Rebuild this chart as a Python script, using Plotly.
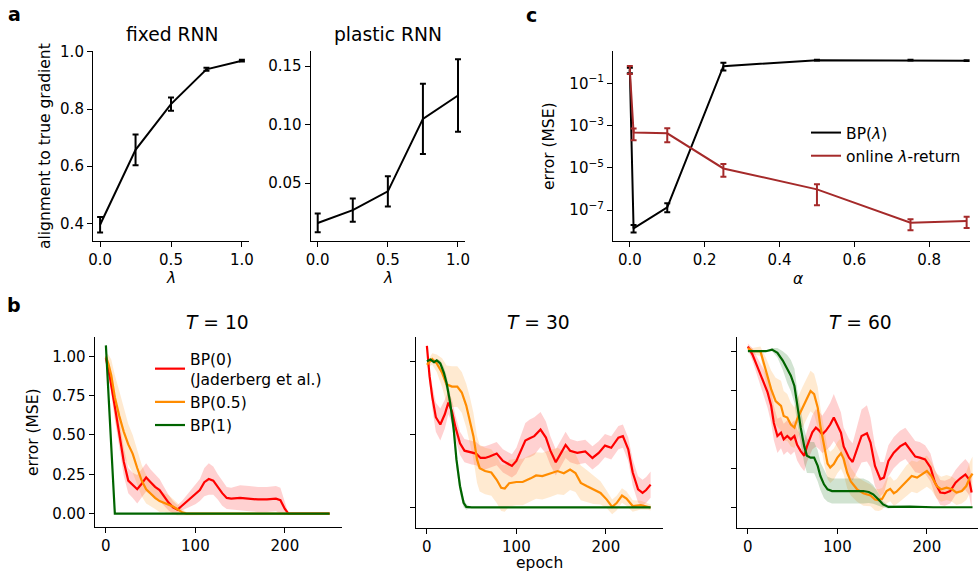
import plotly.graph_objects as go

W, H = 978, 573
FONT = "DejaVu Sans"
TICK = 15
LAB = 15.5
TITLE = 18.7

# ---------------- panel a : alignment to true gradient ----------------
lam = [0.0, 0.25, 0.5, 0.75, 1.0]
fixed_mean = [0.395, 0.657, 0.817, 0.939, 0.969]
fixed_err = [0.027, 0.054, 0.023, 0.005, 0.003]
plastic_mean = [0.016, 0.027, 0.043, 0.105, 0.125]
plastic_err = [0.008, 0.010, 0.013, 0.030, 0.031]

# ---------------- panel c : error vs alpha ----------------
alpha = [0.0, 0.01, 0.1, 0.25, 0.5, 0.75, 0.9]
bp_mean = [0.4, 1.35e-8, 1.35e-7, 0.65, 1.25, 1.25, 1.18]
bp_lo = [0.3, 8.7e-9, 7.8e-8, 0.40, 1.20, 1.20, 1.13]
bp_hi = [0.55, 1.95e-8, 2.1e-7, 0.95, 1.30, 1.30, 1.23]
olr_mean = [0.43, 4.7e-4, 4.3e-4, 9.3e-6, 9.5e-7, 2.5e-8, 3.0e-8]
olr_lo = [0.275, 2.0e-4, 1.6e-4, 3.8e-6, 1.7e-7, 1.1e-8, 1.4e-8]
olr_hi = [0.66, 7.2e-4, 7.4e-4, 1.5e-5, 1.66e-6, 3.7e-8, 4.8e-8]

# ---------------- panel b : learning curves ----------------
# T = 10
t10_red_ep = [0, 5, 10, 15, 20, 25, 30, 35, 40, 45, 50, 55, 60, 65, 70, 75, 80, 85, 90, 95,
              100, 105, 110, 115, 120, 125, 130, 135, 140, 150, 160, 170, 180, 190, 195, 200, 204, 220, 250]
t10_red = [0.99, 0.85, 0.68, 0.50, 0.33, 0.21, 0.18, 0.155, 0.19, 0.23, 0.20, 0.17, 0.15, 0.11, 0.07, 0.04,
           0.025, 0.05, 0.075, 0.095, 0.12, 0.15, 0.20, 0.22, 0.21, 0.17, 0.13, 0.10, 0.095, 0.10, 0.095,
           0.09, 0.09, 0.095, 0.085, 0.03, 0.0, 0.0, 0.0]
t10_red_sd = [0.02, 0.05, 0.08, 0.09, 0.09, 0.08, 0.08, 0.09, 0.09, 0.09, 0.08, 0.08, 0.07, 0.06, 0.05,
              0.04, 0.03, 0.03, 0.04, 0.05, 0.06, 0.07, 0.09, 0.10, 0.09, 0.08, 0.08, 0.07, 0.07, 0.08,
              0.08, 0.08, 0.08, 0.08, 0.08, 0.04, 0.0, 0.0, 0.0]
t10_org_ep = [0, 3, 6, 10, 15, 20, 25, 30, 35, 40, 45, 50, 55, 60, 65, 70, 75, 80, 85, 90, 250]
t10_org = [1.0, 0.95, 0.88, 0.74, 0.62, 0.52, 0.44, 0.38, 0.29, 0.21, 0.155, 0.125, 0.10, 0.08, 0.07,
           0.058, 0.045, 0.028, 0.008, 0.0, 0.0]
t10_org_sd = [0.02, 0.06, 0.10, 0.14, 0.16, 0.15, 0.13, 0.12, 0.11, 0.10, 0.09, 0.08, 0.07, 0.07, 0.06,
              0.06, 0.05, 0.04, 0.02, 0.01, 0.0]
t10_grn_ep = [0, 2, 4, 6, 8, 10, 250]
t10_grn = [1.07, 0.86, 0.66, 0.43, 0.20, 0.0, 0.0]
t10_grn_sd = [0.0, 0.01, 0.01, 0.01, 0.01, 0.0, 0.0]

# T = 30
t30_red_ep = [0, 3, 6, 10, 15, 20, 24, 28, 32, 37, 42, 50, 55, 60, 65, 70, 78, 85, 90, 95,
              100, 105, 110, 115, 120, 127, 133, 138, 144, 150, 155, 160, 168, 177, 185, 192, 199, 206,
              214, 219, 225, 230, 236, 241, 245, 250]
t30_red = [1.11, 0.90, 0.76, 0.62, 0.57, 0.64, 0.72, 0.66, 0.55, 0.44, 0.39, 0.375, 0.37, 0.34, 0.34,
           0.35, 0.37, 0.32, 0.30, 0.285, 0.32, 0.39, 0.46, 0.475, 0.49, 0.535, 0.48, 0.39, 0.31, 0.375,
           0.43, 0.39, 0.375, 0.385, 0.34, 0.375, 0.425, 0.41, 0.48, 0.49, 0.40, 0.24, 0.124, 0.10,
           0.12, 0.157]
t30_red_sd = [0.02, 0.05, 0.08, 0.10, 0.11, 0.10, 0.08, 0.08, 0.08, 0.08, 0.08, 0.08, 0.08, 0.08, 0.08,
              0.08, 0.08, 0.08, 0.08, 0.08, 0.09, 0.10, 0.12, 0.13, 0.13, 0.12, 0.11, 0.10, 0.09, 0.09,
              0.09, 0.08, 0.08, 0.08, 0.08, 0.08, 0.08, 0.08, 0.08, 0.08, 0.08, 0.09, 0.09, 0.09, 0.09,
              0.09]
t30_org_ep = [0, 6, 11, 17, 22, 28, 34, 39, 44, 48, 52, 56, 59, 65, 72, 78, 83, 87, 92, 100,
              107, 116, 122, 129, 137, 146, 153, 160, 166, 172, 179, 186, 194, 201, 207, 212, 218, 223,
              230, 239, 247, 250]
t30_org = [0.98, 1.02, 0.99, 0.925, 0.846, 0.83, 0.83, 0.79, 0.70, 0.60, 0.49, 0.33, 0.27, 0.25, 0.24,
           0.19, 0.135, 0.13, 0.167, 0.175, 0.175, 0.20, 0.22, 0.215, 0.23, 0.25, 0.235, 0.26, 0.237,
           0.169, 0.146, 0.123, 0.10, 0.054, 0.004, 0.03, 0.082, 0.061, 0.01, 0.016, 0.004, 0.0]
t30_org_sd = [0.02, 0.04, 0.06, 0.10, 0.13, 0.14, 0.14, 0.14, 0.15, 0.16, 0.16, 0.16, 0.16, 0.16, 0.16,
              0.16, 0.16, 0.16, 0.16, 0.16, 0.16, 0.16, 0.16, 0.16, 0.16, 0.16, 0.15, 0.14, 0.13, 0.12,
              0.11, 0.10, 0.08, 0.06, 0.05, 0.05, 0.05, 0.05, 0.04, 0.03, 0.02, 0.02]
t30_grn_ep = [0, 4, 8, 11, 15, 19, 22, 26, 30, 33, 37, 41, 44, 50, 250]
t30_grn = [1.005, 1.016, 0.998, 1.01, 0.99, 0.925, 0.855, 0.72, 0.535, 0.33, 0.146, 0.032, 0.004, 0.0, 0.0]
t30_grn_sd = [0.01, 0.01, 0.01, 0.01, 0.02, 0.04, 0.05, 0.06, 0.06, 0.06, 0.05, 0.03, 0.02, 0.0, 0.0]

# T = 60
t60_red_ep = [0, 5, 11, 16, 22, 26, 29, 33, 37, 40, 44, 48, 52, 55, 59, 63, 66, 72, 76, 80,
              83, 87, 92, 96, 100, 104, 107, 113, 117, 122, 127, 133, 137, 142, 148, 152, 157, 163,
              170, 176, 181, 187, 192, 198, 204, 209, 215, 220, 226, 232, 237, 243, 247, 250]
t60_red = [1.03, 0.98, 0.895, 0.82, 0.736, 0.65, 0.54, 0.457, 0.478, 0.435, 0.457, 0.435, 0.457, 0.40,
           0.36, 0.33, 0.39, 0.48, 0.51, 0.49, 0.467, 0.49, 0.53, 0.575, 0.53, 0.478, 0.39, 0.318, 0.29,
           0.37, 0.457, 0.474, 0.414, 0.265, 0.18, 0.19, 0.297, 0.35, 0.39, 0.41, 0.372, 0.325, 0.318,
           0.307, 0.255, 0.158, 0.094, 0.09, 0.104, 0.158, 0.184, 0.21, 0.18, 0.094]
t60_red_sd = [0.02, 0.04, 0.06, 0.08, 0.10, 0.11, 0.11, 0.11, 0.10, 0.10, 0.10, 0.10, 0.10, 0.10, 0.10,
              0.10, 0.10, 0.11, 0.12, 0.12, 0.12, 0.13, 0.14, 0.15, 0.14, 0.13, 0.12, 0.12, 0.12, 0.14,
              0.17, 0.18, 0.16, 0.13, 0.11, 0.10, 0.10, 0.10, 0.10, 0.10, 0.10, 0.10, 0.10, 0.09, 0.09,
              0.08, 0.08, 0.08, 0.08, 0.08, 0.09, 0.10, 0.10, 0.10]
t60_org_ep = [0, 5, 14, 20, 26, 31, 37, 40, 44, 48, 52, 55, 61, 66, 70, 74, 78, 81, 85, 89,
              92, 96, 100, 104, 107, 111, 115, 122, 129, 137, 142, 146, 150, 155, 159, 163, 166, 172,
              177, 183, 189, 194, 200, 205, 211, 216, 222, 228, 233, 239, 244, 248, 251]
t60_org = [1.02, 1.0, 1.0, 0.88, 0.757, 0.68, 0.65, 0.585, 0.575, 0.53, 0.51, 0.564, 0.64, 0.70, 0.745,
           0.725, 0.64, 0.52, 0.39, 0.28, 0.255, 0.277, 0.318, 0.346, 0.31, 0.22, 0.165, 0.115, 0.09,
           0.076, 0.05, 0.046, 0.054, 0.104, 0.118, 0.09, 0.10, 0.136, 0.168, 0.20, 0.19, 0.211, 0.232,
           0.20, 0.136, 0.115, 0.126, 0.115, 0.094, 0.104, 0.136, 0.19, 0.216]
t60_org_sd = [0.01, 0.02, 0.03, 0.08, 0.12, 0.15, 0.16, 0.16, 0.15, 0.14, 0.13, 0.13, 0.13, 0.13, 0.13,
              0.13, 0.13, 0.12, 0.11, 0.10, 0.10, 0.10, 0.10, 0.10, 0.10, 0.10, 0.09, 0.08, 0.08, 0.07,
              0.07, 0.07, 0.07, 0.08, 0.08, 0.08, 0.08, 0.09, 0.10, 0.10, 0.10, 0.10, 0.10, 0.09, 0.08,
              0.08, 0.08, 0.08, 0.08, 0.08, 0.09, 0.10, 0.11]
t60_grn_ep = [0, 10, 20, 27, 33, 39, 44, 48, 52, 55, 59, 63, 66, 70, 74, 78, 81, 85, 89, 94,
              100, 115, 129, 135, 140, 146, 151, 157, 181, 207, 251]
t60_grn = [1.0, 1.0, 1.0, 1.01, 0.99, 0.94, 0.885, 0.843, 0.777, 0.65, 0.51, 0.39, 0.33, 0.318, 0.318,
           0.265, 0.20, 0.147, 0.115, 0.104, 0.104, 0.104, 0.104, 0.098, 0.083, 0.05, 0.018, 0.002,
           0.004, 0.0, 0.0]
t60_grn_sd = [0.0, 0.0, 0.0, 0.01, 0.03, 0.06, 0.09, 0.10, 0.11, 0.11, 0.11, 0.11, 0.11, 0.10, 0.10,
              0.10, 0.09, 0.09, 0.08, 0.08, 0.08, 0.08, 0.08, 0.07, 0.06, 0.04, 0.02, 0.01, 0.0, 0.0, 0.0]

series_names = ["BP(0)<br>(Jaderberg et al.)", "BP(0.5)", "BP(1)"]
line_colors = ["#ff0000", "#ff8c00", "#006400"]
band_colors = ["rgba(255,0,0,0.18)", "rgba(255,140,0,0.18)", "rgba(0,100,0,0.18)"]


def xd(p0, p1):
    return [p0 / W, p1 / W]


def yd(top, bottom):
    return [1 - bottom / H, 1 - top / H]


fig = go.Figure()

# ---- panel a
for i, (m, e) in enumerate([(fixed_mean, fixed_err), (plastic_mean, plastic_err)]):
    ax = "" if i == 0 else "2"
    fig.add_trace(go.Scatter(
        x=lam, y=m, mode="lines", line=dict(color="black", width=2),
        error_y=dict(type="data", array=e, color="black", thickness=2, width=3),
        xaxis="x" + ax, yaxis="y" + ax, showlegend=False, hoverinfo="skip"))

# ---- panel c
fig.add_trace(go.Scatter(
    x=alpha, y=bp_mean, mode="lines", name="BP(<i>λ</i>)",
    line=dict(color="black", width=2),
    error_y=dict(type="data", symmetric=False,
                 array=[h - m for h, m in zip(bp_hi, bp_mean)],
                 arrayminus=[m - l for m, l in zip(bp_mean, bp_lo)],
                 color="black", thickness=2, width=3),
    xaxis="x3", yaxis="y3", legend="legend"))
fig.add_trace(go.Scatter(
    x=alpha, y=olr_mean, mode="lines", name="online <i>λ</i>-return",
    line=dict(color="#a52a2a", width=2),
    error_y=dict(type="data", symmetric=False,
                 array=[h - m for h, m in zip(olr_hi, olr_mean)],
                 arrayminus=[m - l for m, l in zip(olr_mean, olr_lo)],
                 color="#a52a2a", thickness=2, width=3),
    xaxis="x3", yaxis="y3", legend="legend"))

# ---- panel b
panels = [
    ("4", [(t10_red_ep, t10_red, t10_red_sd), (t10_org_ep, t10_org, t10_org_sd), (t10_grn_ep, t10_grn, t10_grn_sd)]),
    ("5", [(t30_red_ep, t30_red, t30_red_sd), (t30_org_ep, t30_org, t30_org_sd), (t30_grn_ep, t30_grn, t30_grn_sd)]),
    ("6", [(t60_red_ep, t60_red, t60_red_sd), (t60_org_ep, t60_org, t60_org_sd), (t60_grn_ep, t60_grn, t60_grn_sd)]),
]
for ax, sers in panels:
    for k, (ep, m, sd) in enumerate(sers):
        up = [a + b for a, b in zip(m, sd)]
        lo = [a - b for a, b in zip(m, sd)]
        fig.add_trace(go.Scatter(
            x=list(ep) + list(ep)[::-1], y=up + lo[::-1], mode="lines", fill="toself",
            fillcolor=band_colors[k], line=dict(width=0, color=band_colors[k]),
            xaxis="x" + ax, yaxis="y" + ax, showlegend=False, hoverinfo="skip"))
    for k, (ep, m, sd) in enumerate(sers):
        fig.add_trace(go.Scatter(
            x=ep, y=m, mode="lines", line=dict(color=line_colors[k], width=2.2),
            name=series_names[k], xaxis="x" + ax, yaxis="y" + ax,
            showlegend=(ax == "4"), legend="legend2", hoverinfo="skip"))

axis_base = dict(showline=True, linecolor="black", linewidth=1.1, ticks="outside", ticklen=5,
                 tickwidth=1.1, tickcolor="black", showgrid=False, zeroline=False,
                 tickfont=dict(family=FONT, size=TICK, color="black"), mirror=False)


def axis(**kw):
    d = dict(axis_base)
    d.update(kw)
    return d


layout = dict(
    width=W, height=H, margin=dict(l=0, r=0, t=0, b=0, pad=0, autoexpand=False), autosize=False,
    paper_bgcolor="white", plot_bgcolor="white",
    font=dict(family=FONT, size=TICK, color="black"),
    # a1
    xaxis=axis(domain=xd(93, 249), anchor="y", range=[-0.05, 1.05], tickvals=[0, 0.5, 1.0],
               ticktext=["0.0", "0.5", "1.0"]),
    yaxis=axis(domain=yd(51, 241), anchor="x", range=[0.338, 1.003], tickvals=[0.4, 0.6, 0.8, 1.0],
               ticktext=["0.4", "0.6", "0.8", "1.0"]),
    # a2
    xaxis2=axis(domain=xd(310.7, 465), anchor="y2", range=[-0.05, 1.05], tickvals=[0, 0.5, 1.0],
                ticktext=["0.0", "0.5", "1.0"]),
    yaxis2=axis(domain=yd(51, 241), anchor="x2", range=[0.0006, 0.163], tickvals=[0.05, 0.10, 0.15],
                ticktext=["0.05", "0.10", "0.15"]),
    # c
    xaxis3=axis(domain=xd(613, 970), anchor="y3", range=[-0.045, 0.909], tickvals=[0, 0.2, 0.4, 0.6, 0.8],
                ticktext=["0.0", "0.2", "0.4", "0.6", "0.8"]),
    yaxis3=axis(domain=yd(51, 241.3), anchor="x3", type="log", range=[-8.48, 0.53],
                tickvals=[1e-1, 1e-3, 1e-5, 1e-7],
                ticktext=["10<sup>−1</sup>", "10<sup>−3</sup>", "10<sup>−5</sup>", "10<sup>−7</sup>"]),
    # b1
    xaxis4=axis(domain=xd(94.7, 341.7), anchor="y4", range=[-12.5, 263.5], tickvals=[0, 100, 200]),
    yaxis4=axis(domain=yd(336.7, 527.3), anchor="x4", range=[-0.087, 1.125],
                tickvals=[0, 0.25, 0.5, 0.75, 1.0], ticktext=["0.00", "0.25", "0.50", "0.75", "1.00"]),
    # b2
    xaxis5=axis(domain=xd(415.7, 662.7), anchor="y5", range=[-12.5, 263.5], tickvals=[0, 100, 200]),
    yaxis5=axis(domain=yd(336.7, 527.7), anchor="x5", range=[-0.139, 1.173], tickvals=[0, 0.5, 1.0],
                showticklabels=False),
    # b3
    xaxis6=axis(domain=xd(736.7, 978), anchor="y6", range=[-12.5, 257.1], tickvals=[0, 100, 200]),
    yaxis6=axis(domain=yd(336.7, 527.7), anchor="x6", range=[-0.131, 1.093],
                tickvals=[0, 0.25, 0.5, 0.75, 1.0], showticklabels=False),
    legend=dict(x=806 / W, y=1 - 116 / H, xanchor="left", yanchor="top", bgcolor="rgba(0,0,0,0)",
                font=dict(family=FONT, size=LAB, color="black"), tracegroupgap=0),
    legend2=dict(x=150 / W, y=1 - 342 / H, xanchor="left", yanchor="top", bgcolor="rgba(0,0,0,0)",
                 font=dict(family=FONT, size=LAB, color="black"), tracegroupgap=0),
)
fig.update_layout(**layout)


def ann(text, x, y, size=LAB, angle=0, bold=False):
    if bold:
        text = "<b>" + text + "</b>"
    fig.add_annotation(text=text, x=x / W, y=1 - y / H, xref="paper", yref="paper",
                       showarrow=False, textangle=angle, xanchor="center", yanchor="middle",
                       borderpad=0, font=dict(family=FONT, size=size, color="black"))


# subplot titles
ann("fixed RNN", 172, 35, TITLE)
ann("plastic RNN", 388, 35, TITLE)
ann("<i>T</i> = 10", 217, 322, TITLE)
ann("<i>T</i> = 30", 538, 322, TITLE)
ann("<i>T</i> = 60", 860, 322, TITLE)
# axis titles
ann("alignment to true gradient", 45, 146, LAB, -90)
ann("error (MSE)", 33, 432, LAB, -90)
ann("<i>λ</i>", 171, 278)
ann("<i>λ</i>", 388, 278)
ann("<i>α</i>", 798, 279)
ann("error (MSE)", 549, 146, LAB, -90)
ann("epoch", 539, 563)
# panel letters
ann("a", 14, 14, 19, bold=True)
ann("b", 14, 305, 19, bold=True)
ann("c", 531, 15, 19, bold=True)

post = ("document.body.style.margin='0';document.body.style.overflow='hidden';"
        "document.querySelectorAll('.plotly-graph-div').forEach(function(d){"
        "d.style.position='fixed';d.style.left='0px';d.style.top='0px';});")
fig.write_html("out.html", config={"displayModeBar": False}, post_script=post)
